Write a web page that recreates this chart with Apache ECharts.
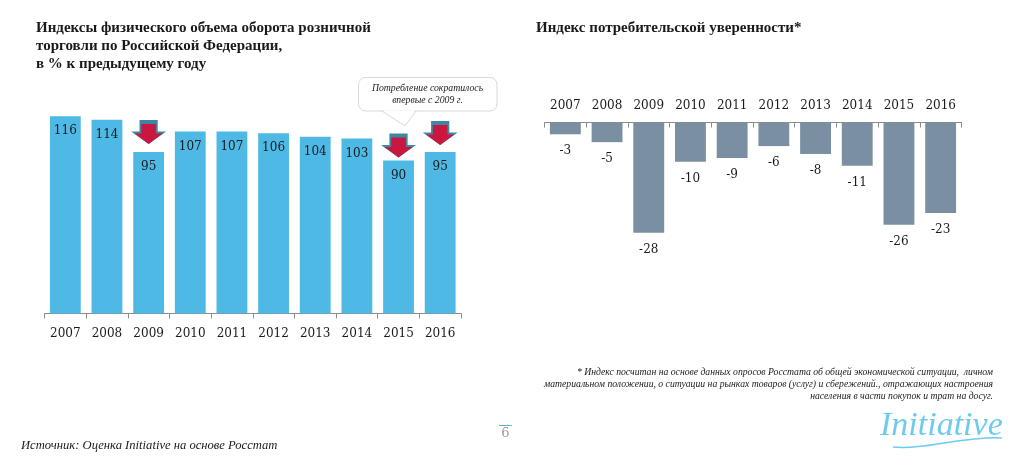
<!DOCTYPE html>
<html><head><meta charset="utf-8">
<style>html,body{margin:0;padding:0;background:#fff}#c{width:1016px;height:459px}</style>
<script src="https://cdn.jsdelivr.net/npm/echarts@6/dist/echarts.min.js"></script>
</head><body><div id="c"></div>
<script>
const years = ['2007','2008','2009','2010','2011','2012','2013','2014','2015','2016'];
const retailIndex = [116,114,95,107,107,106,104,103,90,95];
const confidenceIndex = [-3,-5,-28,-10,-9,-6,-8,-11,-26,-23];
const declineYears = ['2009','2015','2016'];
const arrowGaps = [8,3,7];
const serif = '"Liberation Serif", serif';
const numFont = '"DejaVu Serif", serif';
const titleLeft = 'Индексы физического объема оборота розничной\nторговли по Российской Федерации,\nв % к предыдущему году';
const titleRight = 'Индекс потребительской уверенности*';
const calloutLines = 'Потребление сократилось\nвпервые с 2009 г.';
const footnote = '* Индекс посчитан на основе данных опросов Росстата об общей экономической ситуации,  личном\nматериальном положении, о ситуации на рынках товаров (услуг) и сбережений., отражающих настроения\nнаселения в части покупок и трат на досуг.';
const source = 'Источник: Оценка Initiative на основе Росстат';
const arrowPath = 'path://M24,0 L76,0 L76,48 L100,48 L50,100 L0,48 L24,48 Z';
const arrowPoints = [];
declineYears.forEach((y,i) => {
  const v = retailIndex[years.indexOf(y)];
  const gap = arrowGaps[i];
  arrowPoints.push({coord:[y,v],symbol:arrowPath,symbolSize:[35,24],symbolOffset:[0,-(gap+12)],itemStyle:{color:'#3f86a5'}});
  arrowPoints.push({coord:[y,v],symbol:arrowPath,symbolSize:[28,20],symbolOffset:[0,-(gap+10)],itemStyle:{color:'#c8183f'}});
});
const chart = echarts.init(document.getElementById('c'),null,{renderer:'canvas'});
const axisColor = '#8c8c8c';
const ink = '#1a1a1a';
chart.setOption({
  animation:false,
  backgroundColor:'#fff',
  title:[
    {text:titleLeft,left:31,top:14,textStyle:{fontFamily:serif,fontSize:15,fontWeight:'bold',color:ink,lineHeight:18}},
    {text:titleRight,left:531,top:14,textStyle:{fontFamily:serif,fontSize:15,fontWeight:'bold',color:ink,lineHeight:18}}
  ],
  grid:[
    {left:44.5,width:416.5,top:109.5,height:204},
    {left:544.5,width:417,top:122.5,height:118}
  ],
  xAxis:[
    {type:'category',gridIndex:0,data:years,axisLine:{show:true,lineStyle:{color:axisColor}},axisTick:{show:true,alignWithLabel:false,length:5,lineStyle:{color:axisColor}},
     axisLabel:{fontFamily:numFont,fontSize:12,color:ink,margin:14,interval:0}},
    {type:'category',gridIndex:1,data:years,position:'top',axisLine:{show:true,onZero:true,lineStyle:{color:axisColor}},axisTick:{show:true,alignWithLabel:false,inside:true,length:5,lineStyle:{color:axisColor}},
     axisLabel:{fontFamily:numFont,fontSize:12,color:ink,margin:11,interval:0}}
  ],
  yAxis:[
    {type:'value',gridIndex:0,min:0,max:120,show:false},
    {type:'value',gridIndex:1,min:-30,max:0,show:false}
  ],
  series:[
    {type:'bar',xAxisIndex:0,yAxisIndex:0,data:retailIndex,barCategoryGap:'26%',itemStyle:{color:'#4fb9e5'},
     label:{show:true,position:'insideTop',distance:9,fontFamily:numFont,fontSize:12,color:ink},
     markPoint:{silent:true,label:{show:false},data:arrowPoints}},
    {type:'bar',xAxisIndex:1,yAxisIndex:1,data:confidenceIndex,barCategoryGap:'26%',itemStyle:{color:'#7a90a2'},
     label:{show:true,position:'bottom',distance:11,fontFamily:numFont,fontSize:12,color:ink}}
  ],
  graphic:[
    {type:'rect',shape:{x:358.5,y:77.5,width:138.5,height:33.5,r:7},style:{fill:'#fff',stroke:'#d9d9d9',lineWidth:1},z:5},
    {type:'polygon',shape:{points:[[383,110.5],[405,125],[415,110.5]]},style:{fill:'#fff'},z:6},
    {type:'polyline',shape:{points:[[382,111],[405,126],[416,111]]},style:{fill:'none',stroke:'#d9d9d9',lineWidth:1},z:6},
    {type:'text',x:427.5,y:94,z:7,style:{text:calloutLines,align:'center',verticalAlign:'middle',lineHeight:12,fontFamily:serif,fontStyle:'italic',fontSize:9.75,fill:ink}},
    {type:'text',x:993,y:384.5,style:{text:footnote,align:'right',verticalAlign:'middle',lineHeight:12,fontFamily:serif,fontStyle:'italic',fontSize:9.7,fill:ink}},
    {type:'text',x:21,y:446,style:{text:source,align:'left',verticalAlign:'middle',fontFamily:serif,fontStyle:'italic',fontSize:12.6,fill:ink}},
    {type:'text',x:505.5,y:434,style:{text:'6',align:'center',verticalAlign:'middle',fontFamily:numFont,fontSize:13,fill:'#9a9a9a'}},
    {type:'line',shape:{x1:499,y1:425.5,x2:512,y2:425.5},style:{stroke:'#5ab9e0',lineWidth:1}},
    {type:'text',x:880,y:426,style:{text:'Initiative',align:'left',verticalAlign:'middle',fontFamily:serif,fontStyle:'italic',fontSize:34,fill:'#6ecbee'}},
    {type:'bezierCurve',shape:{x1:893,y1:447,cpx1:925,cpx2:965,cpy1:450,cpy2:436,x2:1002,y2:438},style:{fill:'none',stroke:'#6ecbee',lineWidth:1.5}}
  ]
});
</script></body></html>
